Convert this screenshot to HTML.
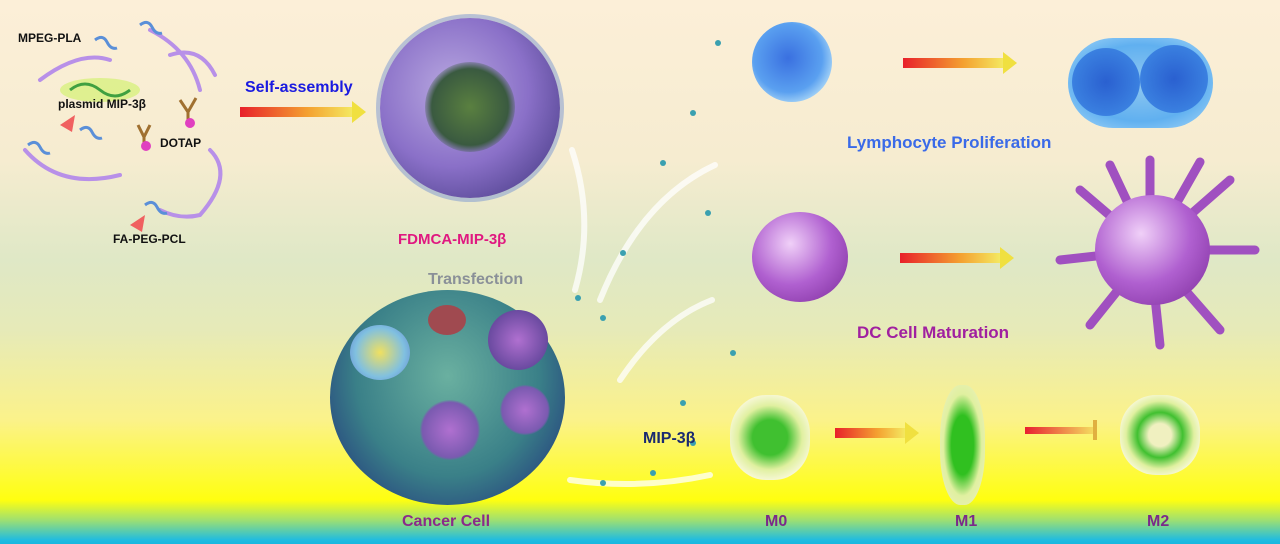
<!DOCTYPE html>
<html><head><meta charset="utf-8"><style>
body{margin:0}
#c{position:relative;width:1280px;height:544px;overflow:hidden;font-family:"Liberation Sans",sans-serif;font-weight:bold;
background:linear-gradient(180deg,#fcefd8 0px,#f6ecd0 160px,#dfe8c6 260px,#e6eab8 330px,#fbf28a 420px,#ffff10 500px,#9fe070 520px,#20bce0 540px,#18b8e0 544px)}
.a{position:absolute}
.t{position:absolute;white-space:nowrap}
.ar{position:absolute;height:10px;background:linear-gradient(90deg,#e8202a,#f4a030 60%,#f4e860)}
.ar:after{content:"";position:absolute;right:-14px;top:-6px;border-left:14px solid #f0e040;border-top:11px solid transparent;border-bottom:11px solid transparent}
.dot{position:absolute;width:6px;height:6px;border-radius:50%;background:#3aa0b0}
</style></head><body><div id="c">

<svg class="a" style="left:0;top:0" width="1280" height="544">
<g fill="none" stroke="#b890e8" stroke-width="4" stroke-linecap="round">
<path d="M40 80 Q80 50 110 60"/><path d="M150 30 Q190 50 200 90"/>
<path d="M25 150 Q60 190 120 175"/><path d="M210 150 Q235 175 200 215 Q180 220 160 210"/>
<path d="M170 55 Q200 45 215 75"/>
</g>
<g fill="none" stroke="#5a8fd8" stroke-width="3">
<path d="M95 40 q8 -6 12 2 t10 6"/><path d="M140 25 q8 -6 12 2 t10 6"/><path d="M80 130 q8 -6 12 2 t10 6"/>
<path d="M28 145 q8 -6 12 2 t10 6"/><path d="M145 205 q8 -6 12 2 t10 6"/>
</g>
<polygon points="60,125 75,115 72,132" fill="#f06060"/>
<polygon points="130,225 145,215 142,232" fill="#f06060"/>
<ellipse cx="100" cy="90" rx="40" ry="12" fill="#d8f080" opacity=".8"/>
<path d="M70 90 q15 -12 30 0 t30 0" stroke="#40a040" stroke-width="3" fill="none"/>
<path d="M180 100 l8 12 l8 -14 M188 112 v8" stroke="#a07030" stroke-width="3" fill="none"/>
<circle cx="190" cy="123" r="5" fill="#e040c0"/>
<path d="M138 125 l6 12 l6 -12 M144 137 v6" stroke="#a07030" stroke-width="3" fill="none"/>
<circle cx="146" cy="146" r="5" fill="#e040c0"/>
<g fill="none" stroke="#ffffff" stroke-width="6" opacity=".75" stroke-linecap="round">
<path d="M572 150 Q595 220 575 290"/><path d="M600 300 Q640 200 715 165"/>
<path d="M620 380 Q660 320 712 300"/><path d="M570 480 Q640 490 710 475"/>
</g>
<rect x="1025" y="427" width="70" height="7" fill="url(#g)"/>
<rect x="1093" y="420" width="4" height="20" fill="#e0b040"/>
<defs><linearGradient id="g"><stop offset="0" stop-color="#e82030"/><stop offset="1" stop-color="#f4e060"/></linearGradient></defs>
</svg>

<div class="a" style="left:380px;top:18px;width:180px;height:180px;border-radius:50%;background:radial-gradient(circle at 40% 40%,#b8a8e0,#8a70c8 50%,#5a4a98 80%,#4a3a80);box-shadow:0 0 0 4px rgba(120,150,210,.5)"></div>
<div class="a" style="left:425px;top:62px;width:90px;height:90px;border-radius:50%;background:radial-gradient(circle,#5a8040,#3a5a40 60%,transparent 75%)"></div>

<div class="a" style="left:330px;top:290px;width:235px;height:215px;border-radius:50%;background:radial-gradient(ellipse at 50% 40%,#6ab0a0,#3a8088 55%,#2a4e80 80%,#4a70b0)"></div>
<div class="a" style="left:350px;top:325px;width:60px;height:55px;border-radius:50%;background:radial-gradient(circle,#f0e060,#80c0e0 60%,#6080d0)"></div>
<div class="a" style="left:488px;top:310px;width:60px;height:60px;border-radius:50%;background:radial-gradient(circle,#b070d0,#6a4aa0 70%,#3a3a80)"></div>
<div class="a" style="left:420px;top:400px;width:60px;height:60px;border-radius:50%;background:radial-gradient(circle,#b070d0,#7a5ab0 65%,transparent 72%)"></div>
<div class="a" style="left:500px;top:385px;width:50px;height:50px;border-radius:50%;background:radial-gradient(circle,#b070d0,#7a5ab0 65%,transparent 72%)"></div>
<div class="a" style="left:428px;top:305px;width:38px;height:30px;border-radius:50%;background:#a04a50"></div>

<div class="a" style="left:752px;top:22px;width:80px;height:80px;border-radius:50%;background:radial-gradient(circle at 45% 45%,#3a70e0,#5aa0f0 55%,#b8e0f8 80%)"></div>
<div class="a" style="left:1068px;top:38px;width:145px;height:90px;border-radius:45px;background:radial-gradient(ellipse,#90c8f0,#60b0f0 60%,#a8d8f8)"></div>
<div class="a" style="left:1072px;top:48px;width:68px;height:68px;border-radius:50%;background:radial-gradient(circle,#2a60d0,#3a80e0 70%,transparent 75%)"></div>
<div class="a" style="left:1140px;top:45px;width:68px;height:68px;border-radius:50%;background:radial-gradient(circle,#2a60d0,#3a80e0 70%,transparent 75%)"></div>

<div class="a" style="left:752px;top:212px;width:96px;height:90px;border-radius:50%;background:radial-gradient(circle at 40% 35%,#f0d0f8,#b060d0 50%,#7a2a98)"></div>
<svg class="a" style="left:1040px;top:150px" width="230" height="200"><g stroke="#a050c0" stroke-width="9" stroke-linecap="round">
<path d="M110 100 L110 10"/><path d="M110 100 L40 40"/><path d="M110 100 L190 30"/><path d="M110 100 L20 110"/><path d="M110 100 L215 100"/><path d="M110 100 L50 175"/><path d="M110 100 L180 180"/><path d="M110 100 L120 195"/><path d="M110 100 L70 15"/><path d="M110 100 L160 12"/>
</g></svg>
<div class="a" style="left:1095px;top:195px;width:115px;height:110px;border-radius:50%;background:radial-gradient(circle at 40% 35%,#f0d0f8,#b060d0 50%,#7a2a98)"></div>

<div class="a" style="left:730px;top:395px;width:80px;height:85px;border-radius:45%;background:radial-gradient(circle,#40c030 30%,#e0f0a0 55%,#f8f8d8 75%)"></div>
<div class="a" style="left:940px;top:385px;width:45px;height:120px;border-radius:45%;background:radial-gradient(ellipse,#30c020 35%,#e0f0a0 60%,#f0f0c8)"></div>
<div class="a" style="left:1120px;top:395px;width:80px;height:80px;border-radius:45%;background:radial-gradient(circle,#f0f0c0 20%,#40c030 40%,#e0f0a0 60%,#f8f8d8 75%)"></div>

<div class="ar" style="left:240px;top:107px;width:112px"></div>
<div class="ar" style="left:903px;top:58px;width:100px"></div>
<div class="ar" style="left:900px;top:253px;width:100px"></div>
<div class="ar" style="left:835px;top:428px;width:70px"></div>

<div class="dot" style="left:575px;top:295px"></div><div class="dot" style="left:600px;top:315px"></div>
<div class="dot" style="left:620px;top:250px"></div><div class="dot" style="left:660px;top:160px"></div>
<div class="dot" style="left:690px;top:110px"></div><div class="dot" style="left:715px;top:40px"></div>
<div class="dot" style="left:705px;top:210px"></div><div class="dot" style="left:680px;top:400px"></div>
<div class="dot" style="left:690px;top:440px"></div><div class="dot" style="left:600px;top:480px"></div>
<div class="dot" style="left:650px;top:470px"></div><div class="dot" style="left:730px;top:350px"></div>

<div class="t" style="left:18px;top:31px;font-size:12px;color:#111">MPEG-PLA</div>
<div class="t" style="left:58px;top:97px;font-size:12px;color:#111">plasmid MIP-3β</div>
<div class="t" style="left:160px;top:136px;font-size:12px;color:#111">DOTAP</div>
<div class="t" style="left:113px;top:232px;font-size:12px;color:#111">FA-PEG-PCL</div>
<div class="t" style="left:245px;top:79px;font-size:16px;color:#1a1ae0">Self-assembly</div>
<div class="t" style="left:398px;top:231px;font-size:15px;color:#e01880">FDMCA-MIP-3β</div>
<div class="t" style="left:428px;top:271px;font-size:16px;color:#8a9098">Transfection</div>
<div class="t" style="left:402px;top:513px;font-size:16px;color:#8a2a8a">Cancer Cell</div>
<div class="t" style="left:643px;top:430px;font-size:16px;color:#1a2a70">MIP-3β</div>
<div class="t" style="left:847px;top:133px;font-size:17px;color:#3a6ae8">Lymphocyte Proliferation</div>
<div class="t" style="left:857px;top:323px;font-size:17px;color:#a020a0">DC Cell Maturation</div>
<div class="t" style="left:765px;top:513px;font-size:16px;color:#7a2a8a">M0</div>
<div class="t" style="left:955px;top:513px;font-size:16px;color:#7a2a8a">M1</div>
<div class="t" style="left:1147px;top:513px;font-size:16px;color:#7a2a8a">M2</div>
</div></body></html>
